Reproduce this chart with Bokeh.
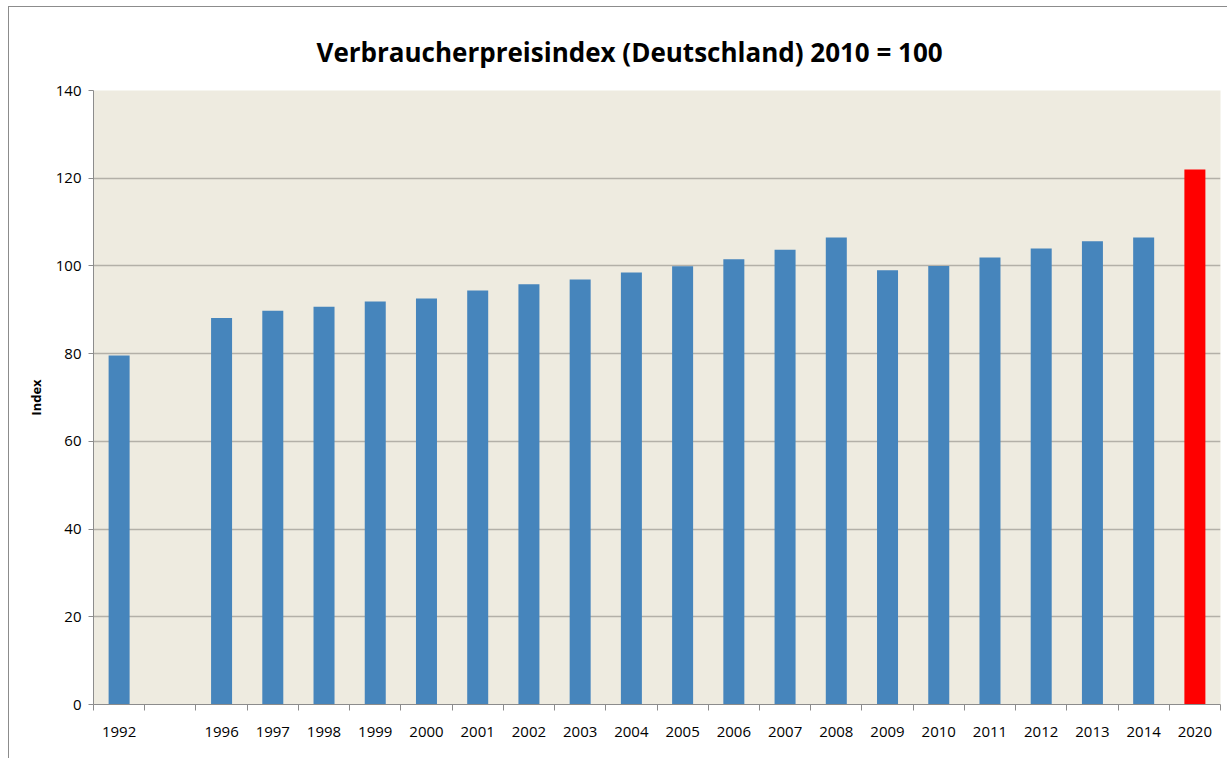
from bokeh.plotting import figure
from bokeh.models import ColumnDataSource, FixedTicker, Range1d
from bokeh.embed import file_html
from bokeh.resources import INLINE

years = ["1992", "", "1996", "1997", "1998", "1999", "2000", "2001", "2002", "2003",
         "2004", "2005", "2006", "2007", "2008", "2009", "2010", "2011", "2012",
         "2013", "2014", "2020"]
values = [79.6, None, 88.1, 89.8, 90.7, 91.9, 92.6, 94.4, 95.8, 96.9,
          98.5, 99.9, 101.5, 103.7, 106.5, 99.0, 100.0, 101.9, 104.0,
          105.6, 106.5, 122.0]
colors = ["#4685BC"] * 21 + ["#FF0000"]

xs, tops, cols = [], [], []
for i, (v, c) in enumerate(zip(values, colors)):
    if v is not None:
        xs.append(i + 0.5)
        tops.append(v)
        cols.append(c)
src = ColumnDataSource(dict(x=xs, top=tops, color=cols))

n = len(years)
p = figure(width=1219, height=752, output_backend="svg", toolbar_location=None,
           x_range=Range1d(0, n), y_range=Range1d(0, 140),
           min_border_left=84, min_border_right=8, min_border_bottom=55, min_border_top=83)
p.title.text = "Verbraucherpreisindex (Deutschland) 2010 = 100"
p.title.align = "left"
p.title.offset = 223
p.title.standoff = 41
p.title.text_font = "Open Sans"
p.title.text_font_size = "26px"
p.title.text_font_style = "bold"
p.title.text_color = "#000000"

p.vbar(x="x", top="top", width=0.41, color="color", source=src, line_color=None)

p.background_fill_color = "#EEEBE0"
p.border_fill_color = "white"
p.outline_line_color = None

p.ygrid.grid_line_color = "#B3B0A8"
p.ygrid.grid_line_width = 1.5
p.xgrid.grid_line_color = None

centers = [i + 0.5 for i in range(n)]
bounds = list(range(n + 1))
p.xaxis.ticker = FixedTicker(ticks=centers, minor_ticks=bounds)
p.xaxis.major_label_overrides = {c: y for c, y in zip(centers, years)}
p.xaxis.major_tick_out = 0
p.xaxis.major_tick_in = 0
p.xaxis.minor_tick_out = 6
p.xaxis.minor_tick_in = 0
p.xaxis.minor_tick_line_color = "#8C8C8C"
p.xaxis.axis_line_color = "#8C8C8C"
p.xaxis.major_label_text_font = "Open Sans"
p.xaxis.major_label_text_font_size = "15px"
p.xaxis.major_label_text_color = "#000000"
p.xaxis.major_label_standoff = 16

p.yaxis.ticker = FixedTicker(ticks=[0, 20, 40, 60, 80, 100, 120, 140])
p.yaxis.major_tick_out = 5
p.yaxis.major_tick_in = 0
p.yaxis.minor_tick_line_color = None
p.yaxis.major_tick_line_color = "#8C8C8C"
p.yaxis.axis_line_color = "#8C8C8C"
p.yaxis.major_label_text_font = "Open Sans"
p.yaxis.major_label_text_font_size = "15px"
p.yaxis.major_label_text_color = "#000000"
p.yaxis.major_label_standoff = 7
p.yaxis.axis_label = "Index"
p.yaxis.axis_label_text_font = "Open Sans"
p.yaxis.axis_label_text_font_size = "13px"
p.yaxis.axis_label_text_font_style = "bold"
p.yaxis.axis_label_text_color = "#000000"
p.yaxis.axis_label_standoff = 8

p.styles = {"margin-left": "8px", "margin-top": "6px",
            "border-left": "1px solid #8C8C8C", "border-top": "1px solid #8C8C8C"}

open("out.html", "w").write(file_html(p, INLINE))
